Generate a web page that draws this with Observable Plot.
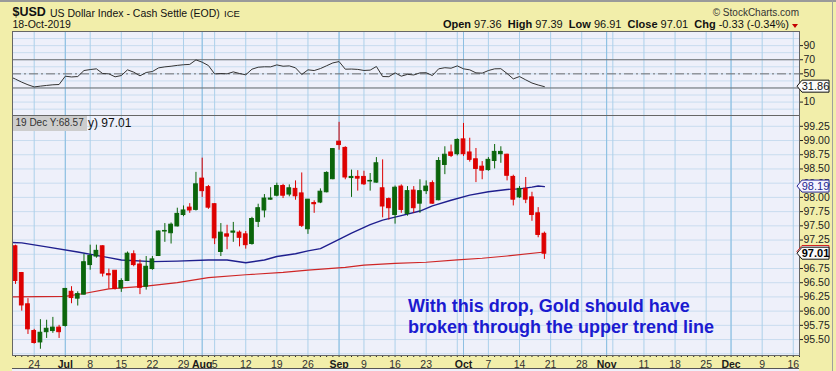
<!DOCTYPE html>
<html>
<head>
<meta charset="utf-8">
<script src="https://cdn.jsdelivr.net/npm/d3@7"></script>
<script src="https://cdn.jsdelivr.net/npm/@observablehq/plot@0.6"></script>
<style>
html, body { margin: 0; padding: 0; background: #f2eeaa; }
#wrap { position: relative; width: 836px; height: 371px; overflow: hidden; background: #f2eeaa;
        font-family: "Liberation Sans", Arial, sans-serif; }
.abs { position: absolute; white-space: nowrap; line-height: 1; }
</style>
</head>
<body>
<div id="wrap"></div>
<script>
// ---------------- DATA ----------------
const holidays = ["2019-07-04", "2019-09-02", "2019-11-28"];
const candleStart = "2019-06-19";
const open = [97.14, 96.67, 96.12, 95.65, 95.45, 95.63, 95.65, 95.71, 95.74, 96.34, 96.22, 96.29, 96.81, 96.96, 97.14, 96.65, 96.71, 96.40, 96.53, 97.00, 96.82, 96.43, 96.74, 96.97, 97.40, 97.37, 97.49, 97.69, 97.82, 97.78, 98.33, 98.18, 97.88, 97.04, 97.35, 97.38, 97.38, 97.35, 97.18, 97.57, 97.77, 97.96, 98.03, 98.20, 98.05, 98.15, 98.07, 97.44, 97.90, 97.91, 98.09, 98.32, 98.98, 98.87, 98.34, 98.36, 98.36, 98.28, 98.26, 98.16, 97.97, 97.69, 98.19, 97.71, 98.12, 97.89, 98.11, 98.25, 97.95, 98.57, 98.79, 98.76, 99.02, 98.79, 98.67, 98.54, 98.48, 98.64, 98.76, 98.75, 98.36, 98.00, 98.15, 98.00, 97.72, 97.36];
const high = [97.16, 96.68, 96.22, 95.68, 95.85, 95.84, 95.89, 95.75, 96.40, 96.43, 96.34, 97.00, 97.16, 97.16, 97.15, 96.74, 96.71, 96.57, 97.04, 97.06, 96.90, 96.96, 96.96, 97.41, 97.54, 97.55, 97.81, 97.85, 97.89, 98.44, 98.69, 98.21, 97.89, 97.54, 97.51, 97.56, 97.41, 97.40, 97.65, 97.88, 98.05, 98.17, 98.25, 98.23, 98.22, 98.29, 98.43, 97.96, 97.94, 98.15, 98.45, 98.86, 99.32, 98.89, 98.48, 98.47, 98.46, 98.42, 98.70, 98.66, 97.99, 98.20, 98.22, 98.19, 98.19, 98.31, 98.29, 98.29, 98.70, 98.89, 98.92, 99.03, 99.30, 99.04, 98.86, 98.63, 98.70, 98.93, 98.89, 98.76, 98.39, 98.19, 98.35, 98.09, 97.82, 97.39];
const low = [96.47, 96.00, 95.59, 95.42, 95.33, 95.52, 95.61, 95.52, 95.72, 96.13, 96.09, 96.28, 96.72, 96.93, 96.60, 96.39, 96.37, 96.33, 96.52, 96.78, 96.29, 96.37, 96.72, 96.96, 97.21, 97.18, 97.48, 97.66, 97.72, 97.76, 98.00, 97.79, 97.17, 96.96, 97.08, 97.21, 97.13, 97.09, 97.16, 97.47, 97.64, 97.95, 98.01, 97.98, 98.01, 97.95, 97.47, 97.35, 97.72, 97.89, 98.08, 98.31, 98.83, 98.31, 98.00, 98.11, 98.21, 98.11, 98.25, 97.64, 97.60, 97.53, 97.72, 97.67, 97.72, 97.72, 98.05, 97.88, 97.94, 98.40, 98.70, 98.73, 98.72, 98.62, 98.26, 98.31, 98.46, 98.50, 98.60, 98.29, 97.85, 97.98, 97.89, 97.58, 97.29, 96.91];
const close = [96.53, 96.10, 95.68, 95.44, 95.62, 95.69, 95.71, 95.63, 96.39, 96.23, 96.30, 96.86, 96.97, 97.06, 96.66, 96.63, 96.39, 96.53, 97.01, 96.81, 96.41, 96.78, 96.91, 97.40, 97.41, 97.52, 97.71, 97.77, 97.77, 98.23, 98.11, 97.82, 97.28, 97.38, 97.31, 97.40, 97.29, 97.16, 97.62, 97.81, 97.98, 97.98, 98.20, 98.03, 98.16, 98.02, 97.50, 97.96, 97.88, 98.10, 98.43, 98.85, 98.92, 98.35, 98.36, 98.33, 98.23, 98.29, 98.60, 97.84, 97.81, 98.17, 97.78, 98.11, 97.81, 98.11, 98.19, 97.89, 98.64, 98.75, 98.73, 99.01, 98.76, 98.66, 98.50, 98.47, 98.66, 98.80, 98.80, 98.38, 97.96, 98.15, 97.96, 97.69, 97.34, 97.01];

const ma50Dates = ["2019-06-18", "2019-06-20", "2019-06-26", "2019-07-03", "2019-07-09", "2019-07-11", "2019-07-15", "2019-07-22", "2019-07-26", "2019-08-02", "2019-08-07", "2019-08-12", "2019-08-15", "2019-08-19", "2019-08-22", "2019-08-26", "2019-08-28", "2019-09-03", "2019-09-05", "2019-09-10", "2019-09-12", "2019-09-17", "2019-09-20", "2019-09-24", "2019-09-27", "2019-10-02", "2019-10-07", "2019-10-10", "2019-10-14", "2019-10-16", "2019-10-17", "2019-10-18"];
const ma50Values = [97.21, 97.20, 97.13, 97.04, 96.98, 96.94, 96.90, 96.87, 96.88, 96.90, 96.90, 96.85, 96.90, 96.96, 97.01, 97.06, 97.10, 97.26, 97.37, 97.52, 97.60, 97.68, 97.76, 97.85, 97.95, 98.04, 98.10, 98.14, 98.15, 98.18, 98.20, 98.19];

const ma200Dates = ["2019-06-18", "2019-07-01", "2019-07-05", "2019-07-11", "2019-07-19", "2019-07-26", "2019-08-02", "2019-08-12", "2019-08-20", "2019-08-26", "2019-09-04", "2019-09-09", "2019-09-16", "2019-09-23", "2019-09-30", "2019-10-04", "2019-10-10", "2019-10-18"];
const ma200Values = [96.25, 96.26, 96.31, 96.39, 96.44, 96.50, 96.59, 96.64, 96.68, 96.72, 96.77, 96.81, 96.84, 96.86, 96.90, 96.93, 96.97, 97.04];

const rsiStart = "2019-06-18";
const rsiValues = [46.5, 42.5, 38.2, 34.5, 31.5, 32.6, 33.6, 34.5, 34.9, 46.7, 45.6, 46.2, 54.7, 56.1, 57.1, 50.5, 50.0, 45.8, 47.6, 55.7, 52.4, 47.2, 51.9, 53.3, 58.5, 59.9, 60.8, 62.0, 62.9, 63.4, 69.8, 66.5, 61.8, 49.9, 50.5, 50.0, 52.8, 50.5, 48.6, 56.6, 59.4, 60.0, 59.9, 62.7, 60.8, 61.3, 58.5, 49.1, 55.7, 54.7, 57.5, 61.5, 65.5, 67.4, 56.6, 56.8, 56.3, 54.8, 55.3, 60.4, 46.2, 46.0, 51.4, 46.7, 49.3, 48.4, 51.4, 51.6, 47.6, 57.1, 58.7, 58.0, 61.3, 57.1, 55.7, 51.4, 51.0, 54.7, 57.1, 57.3, 50.5, 42.9, 46.2, 41.5, 37.0, 34.2, 31.86];

const tickDates = ["2019-06-24", "2019-07-01", "2019-07-08", "2019-07-15", "2019-07-22", "2019-07-29", "2019-08-01", "2019-08-05", "2019-08-12", "2019-08-19", "2019-08-26", "2019-09-03", "2019-09-09", "2019-09-16", "2019-09-23", "2019-10-01", "2019-10-07", "2019-10-14", "2019-10-21", "2019-10-28", "2019-11-01", "2019-11-11", "2019-11-18", "2019-11-25", "2019-12-02", "2019-12-09", "2019-12-16"];
const tickLabels = ["24", "Jul", "8", "15", "22", "29", "Aug", "5", "12", "19", "26", "Sep", "9", "16", "23", "Oct", "7", "14", "21", "28", "Nov", "11", "18", "25", "Dec", "9", "16"];

// axis labels that sit under the value tags in the original are left blank
const priceTicks = [95.50, 95.75, 96.00, 96.25, 96.50, 96.75, 97.00, 97.25, 97.50, 97.75, 98.00, 98.25, 98.50, 98.75, 99.00, 99.25];
const priceTicksHidden = [97.00];
const priceGrid = [95.25, 95.50, 95.75, 96.00, 96.25, 96.50, 96.75, 97.00, 97.25, 97.50, 97.75, 98.00, 98.25, 98.50, 98.75, 99.00, 99.25];
const rsiTicks = [10, 30, 50, 70, 90];
const rsiTicksHidden = [30];
const rsiGrid = [0, 10, 20, 30, 40, 50, 60, 70, 80, 90, 100];

// ---------------- CALENDAR (trading days) ----------------
const calendar = [];
for (let t = Date.UTC(2019, 5, 17); t <= Date.UTC(2019, 11, 31); t += 864e5) {
  const d = new Date(t);
  const s = d.toISOString().slice(0, 10);
  const wd = d.getUTCDay();
  if (wd > 0 && wd < 6 && !holidays.includes(s)) calendar.push(s);
}
const origin = calendar.indexOf("2019-06-24");
const idx = s => calendar.indexOf(s) - origin;
const X_DOMAIN = [-3.487, 123];
const inView = i => i >= X_DOMAIN[0] && i <= X_DOMAIN[1];

const monthStarts = calendar.filter((s, k) => k > 0 && calendar[k - 1].slice(5, 7) !== s.slice(5, 7));
const gridDays = calendar.filter(s => new Date(s).getUTCDay() === 1 || monthStarts.includes(s));
const gridIdx = gridDays.map(idx).filter(inView);
const monthIdx = monthStarts.map(idx).filter(inView);
const dayIdx = calendar.map(idx).filter(inView);

const c0 = calendar.indexOf(candleStart);
const candles = close.map((c, k) => ({
  i: idx(calendar[c0 + k]), open: open[k], high: high[k], low: low[k], close: c
}));
const ma50 = ma50Dates.map((d, k) => ({i: idx(d), v: ma50Values[k]}));
const ma200 = ma200Dates.map((d, k) => ({i: idx(d), v: ma200Values[k]}));
const r0 = calendar.indexOf(rsiStart);
const rsi = rsiValues.map((v, k) => ({i: idx(calendar[r0 + k]), v}));
const xTicks = tickDates.map((d, k) => ({i: idx(d), label: tickLabels[k], month: /[A-Za-z]/.test(tickLabels[k])}));

const GREEN = "#0b650b", RED = "#dd0000";
const candleColor = d => d.close >= d.open ? GREEN : RED;

// value tag on the right axis, positioned by the y scale
function valueTag(value, label, o) {
  return (index, scales, values, dimensions) => {
    const y = scales.y(value);
    const x0 = dimensions.width - dimensions.marginRight - 2;
    const g = d3.create("svg:g");
    g.append("path")
      .attr("d", `M${x0},${y}L${x0 + 5},${y - 6}H${x0 + 32}V${y + 6}H${x0 + 5}Z`)
      .attr("fill", o.fill).attr("stroke", o.stroke).attr("stroke-width", 1);
    if (label) g.append("text")
      .attr("x", x0 + 18.5).attr("y", y).attr("dy", "0.36em")
      .attr("text-anchor", "middle").attr("fill", o.color)
      .attr("font-size", o.size).attr("font-weight", o.weight || "normal")
      .text(label);
    return g.node();
  };
}

const svgStyle = "position:absolute;left:0;top:0;background:transparent;overflow:visible;" +
  "font-family:'Liberation Sans',Arial,sans-serif;font-size:10.5px;color:#222;";
const BG = "#eef0fa", FRAME = "#666", HGRID = "#c9dcef", VGRID = "#acd0ea", MGRID = "#8dbfe2";

// ---------------- RSI PANEL ----------------
const rsiChart = Plot.plot({
  width: 836, height: 371,
  marginTop: 31, marginBottom: 256, marginLeft: 12, marginRight: 37,
  style: svgStyle,
  x: {domain: X_DOMAIN, axis: null},
  y: {domain: [-9, 110], axis: "right", ticks: rsiTicks, tickSize: 3, tickPadding: 1, label: null,
      tickFormat: d => rsiTicksHidden.includes(d) ? "" : String(d)},
  marks: [
    Plot.frame({fill: BG, stroke: "none"}),
    Plot.ruleY(rsiGrid, {stroke: HGRID}),
    Plot.ruleX(gridIdx, {stroke: VGRID}),
    Plot.ruleX(monthIdx, {stroke: MGRID}),
    Plot.ruleY([30, 70], {stroke: "#6e6e6e"}),
    Plot.ruleY([50], {stroke: "#6e6e6e", strokeDasharray: "9,3,2,3"}),
    Plot.line(rsi, {x: "i", y: "v", stroke: "#333", strokeWidth: 1, clip: true}),
    Plot.frame({stroke: FRAME}),
    valueTag(rsiValues[rsiValues.length - 1], rsiValues[rsiValues.length - 1].toFixed(2),
      {fill: "#fbfbfb", stroke: "#111", color: "#111", size: 11})
  ]
});

// ---------------- PRICE PANEL ----------------
const last = candles[candles.length - 1];
const priceChart = Plot.plot({
  width: 836, height: 371,
  marginTop: 115, marginBottom: 16, marginLeft: 12, marginRight: 37,
  style: svgStyle,
  x: {domain: X_DOMAIN, ticks: dayIdx, tickSize: 2, tickFormat: () => "", label: null},
  y: {domain: [95.22, 99.44], axis: "right", ticks: priceTicks, tickSize: 3, tickPadding: 1,
      tickFormat: d => priceTicksHidden.includes(d) ? "" : d.toFixed(2), label: null},
  marks: [
    Plot.frame({fill: BG, stroke: "none"}),
    Plot.ruleY(priceGrid, {stroke: HGRID}),
    Plot.ruleX(gridIdx, {stroke: VGRID}),
    Plot.ruleX(monthIdx, {stroke: MGRID}),
    Plot.line(ma200, {x: "i", y: "v", stroke: "#cf2626", strokeWidth: 1.2, clip: true}),
    Plot.line(ma50, {x: "i", y: "v", stroke: "#1f1f8e", strokeWidth: 1.4, clip: true}),
    Plot.ruleX(candles, {x: "i", y1: "low", y2: "high", stroke: candleColor, strokeWidth: 1}),
    Plot.rect(candles, {x1: d => d.i - 0.3, x2: d => d.i + 0.3, y1: "open", y2: "close",
      fill: candleColor, stroke: candleColor, strokeWidth: 1}),
    Plot.frame({stroke: FRAME}),
    Plot.text(xTicks.filter(d => !d.month), {x: "i", text: "label", frameAnchor: "bottom",
      lineAnchor: "bottom", dy: 12, fill: "#333", fontSize: 10.5}),
    Plot.text(xTicks.filter(d => d.month), {x: "i", text: "label", frameAnchor: "bottom",
      lineAnchor: "bottom", dy: 12, fill: "#1a1a1a", fontSize: 10.5, fontWeight: "bold"}),
    valueTag(ma50Values[ma50Values.length - 1], ma50Values[ma50Values.length - 1].toFixed(2),
      {fill: "#f4f4ff", stroke: "#2a2a9a", color: "#1f1f8e", size: 11}),
    valueTag(ma200Values[ma200Values.length - 1], null, {fill: "#fbfbfb", stroke: "#d02020"}),
    valueTag(last.close, last.close.toFixed(2),
      {fill: "#fbfbfb", stroke: "#111", color: "#000", size: 11, weight: "bold"})
  ]
});

const wrap = document.getElementById("wrap");
wrap.append(rsiChart, priceChart);

// ---------------- TEXT OVERLAYS ----------------
const prev = candles[candles.length - 2];
const chg = last.close - prev.close;
function add(html, css) {
  const el = document.createElement("div");
  el.className = "abs";
  el.style.cssText = css;
  el.innerHTML = html;
  wrap.append(el);
  return el;
}
add("$USD", "left:12.5px;top:6px;font-size:12.5px;font-weight:bold;color:#111;");
add("US Dollar Index - Cash Settle (EOD)", "left:50px;top:7.8px;font-size:10.5px;color:#111;");
add("ICE", "left:224px;top:8.7px;font-size:9.5px;color:#111;");
add("18-Oct-2019", "left:12.5px;top:19.1px;font-size:10.5px;color:#111;");
add("&copy; StockCharts.com", "right:37px;top:8px;font-size:10px;color:#333;");
const f = v => v.toFixed(2);
add(`<b>Open</b> ${f(last.open)}&nbsp; <b>High</b> ${f(last.high)}&nbsp; <b>Low</b> ${f(last.low)}&nbsp; ` +
    `<b>Close</b> ${f(last.close)}&nbsp; <b>Chg</b> ${f(chg)} (${f(chg / prev.close * 100)}%)`,
    "right:47px;top:19px;font-size:11px;color:#111;");
add("", "left:792px;top:24px;width:0;height:0;border-left:3px solid transparent;border-right:3px solid transparent;border-top:4px solid #c40000;");
add("", "left:0;top:0;width:836px;height:2px;background:#9a9a9a;");
add("", "left:832px;top:0;width:1px;height:371px;background:#a0a0a0;");
add("", "left:12px;top:368px;width:787px;height:3px;border-top:1px solid #555;background:" + BG + ";");
add("19 Dec Y:68.57", "left:12.5px;top:116px;width:71px;height:14.5px;padding-left:3px;background:#cdcdcd;font-size:10px;color:#333;line-height:14.5px;");
add(`y) ${f(last.close)}`, "left:88px;top:117.3px;font-size:12px;color:#111;");
add("With this drop, Gold should have<br>broken through the upper trend line",
    "left:408px;top:296px;font-size:18px;font-weight:bold;color:#1b1bd0;line-height:21px;");
</script>
</body>
</html>
